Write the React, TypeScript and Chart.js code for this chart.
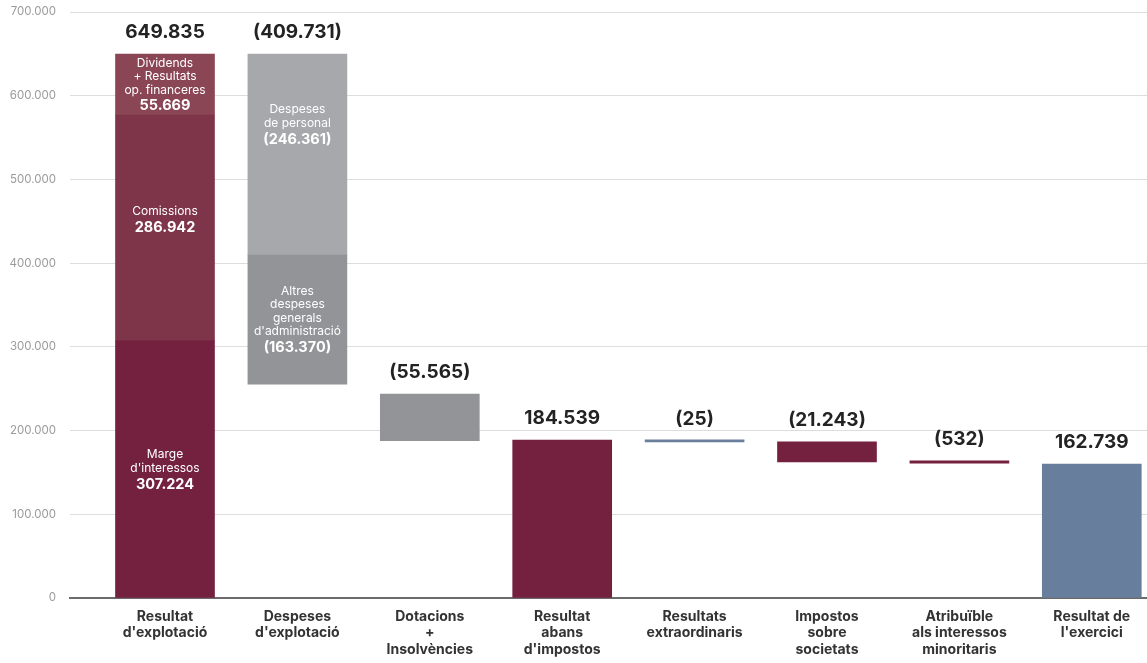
import React, { useEffect, useRef } from "react";
import { Chart, registerables } from "chart.js";

Chart.register(...registerables);

const xLabels: string[][] = [
  ["Resultat", "d'explotació"],
  ["Despeses", "d'explotació"],
  ["Dotacions", "+", "Insolvències"],
  ["Resultat", "abans", "d'impostos"],
  ["Resultats", "extraordinaris"],
  ["Impostos", "sobre", "societats"],
  ["Atribuïble", "als interessos", "minoritaris"],
  ["Resultat de", "l'exercici"],
];

const topLabels = ["649.835", "(409.731)", "(55.565)", "184.539", "(25)", "(21.243)", "(532)", "162.739"];

// floating segment ranges [low, high] per category
const baseRanges: ([number, number] | null)[] = [
  [0, 307224],
  [255500, 409700],
  [188000, 243500],
  [0, 188500],
  [186500, 187300],
  [162500, 186500],
  [161000, 163800],
  [0, 160000],
];
const midRanges: ([number, number] | null)[] = [[307224, 577000], [409700, 649835], null, null, null, null, null, null];
const topRanges: ([number, number] | null)[] = [[577000, 649835], null, null, null, null, null, null, null];

const baseColors = ["#74213f", "#939498", "#939498", "#74213f", "#6a7f9c", "#74213f", "#74213f", "#677e9c"];
const midColors = ["#7e3549", "#a7a8ac", "", "", "", "", "", ""];
const topColors = ["#8b4656", "", "", "", "", "", "", ""];

// texts inside segments
const segmentNotes = [
  { level: 0, cat: 0, lines: ["Marge", "d'interessos"], value: "307.224", dy: 0 },
  { level: 1, cat: 0, lines: ["Comissions"], value: "286.942", dy: -8 },
  { level: 2, cat: 0, lines: ["Dividends", "+ Resultats", "op. financeres"], value: "55.669", dy: 0 },
  { level: 1, cat: 1, lines: ["Despeses", "de personal"], value: "(246.361)", dy: -30 },
  { level: 0, cat: 1, lines: ["Altres", "despeses", "generals", "d'administració"], value: "(163.370)", dy: 0 },
];

const levels = [baseRanges, midRanges, topRanges];

const fmt = (v: number) => String(Math.round(v)).replace(/\B(?=(\d{3})+(?!\d))/g, ".");

const FONT = "Inter";

const toPoints = (ranges: ([number, number] | null)[]) =>
  ranges.map((r, i) => (r ? { x: i, y: r } : null)).filter((p) => p !== null);
const toColors = (ranges: ([number, number] | null)[], colors: string[]) =>
  ranges.map((r, i) => (r ? colors[i] : null)).filter((c) => c !== null);

const labelPlugin = {
  id: "waterfallLabels",
  afterDatasetsDraw(chart: any) {
    const { ctx, scales } = chart;
    const xs = scales.x;
    const ys = scales.y;
    ctx.save();
    ctx.textAlign = "center";
    ctx.textBaseline = "middle";
    segmentNotes.forEach((n) => {
      const r = levels[n.level][n.cat];
      if (!r) return;
      const cx = xs.getPixelForValue(n.cat);
      const cy = (ys.getPixelForValue(r[0]) + ys.getPixelForValue(r[1])) / 2 + n.dy;
      const step = 13.5;
      const gap = 16;
      const h = (n.lines.length - 1) * step + gap;
      const y0 = cy - h / 2;
      ctx.fillStyle = "#ffffff";
      ctx.font = `12px ${FONT}`;
      n.lines.forEach((t, k) => ctx.fillText(t, cx, y0 + k * step));
      ctx.font = `bold 14.5px ${FONT}`;
      ctx.fillText(n.value, cx, y0 + (n.lines.length - 1) * step + gap);
    });
    ctx.fillStyle = "#232323";
    ctx.font = `bold 19px ${FONT}`;
    topLabels.forEach((t, i) => {
      let top = -Infinity;
      levels.forEach((lv) => {
        const r = lv[i];
        if (r) top = Math.max(top, r[1]);
      });
      const cx = xs.getPixelForValue(i);
      const y = ys.getPixelForValue(top) - 22;
      ctx.fillText(t, cx, y);
    });
    ctx.restore();
  },
};

export default function App() {
  const ref = useRef<HTMLCanvasElement | null>(null);
  useEffect(() => {
    if (!ref.current) return;
    const chart = new Chart(ref.current, {
      type: "bar",
      data: {
        datasets: [
          { label: "base", data: toPoints(baseRanges) as any, backgroundColor: toColors(baseRanges, baseColors) as any, barThickness: 99, minBarLength: 2 },
          { label: "mid", data: toPoints(midRanges) as any, backgroundColor: toColors(midRanges, midColors) as any, barThickness: 99 },
          { label: "top", data: toPoints(topRanges) as any, backgroundColor: toColors(topRanges, topColors) as any, barThickness: 99 },
        ],
      },
      options: {
        responsive: false,
        animation: false,
        layout: { padding: { top: 12, left: 0, right: 0, bottom: 0 } },
        plugins: { legend: { display: false }, tooltip: { enabled: false } },
        scales: {
          x: {
            type: "linear",
            min: -0.7175,
            max: 7.417,
            offset: false,
            stacked: true,
            grid: { display: false, drawTicks: false, offset: false },
            border: { display: true, color: "#6b6b6b", width: 2 },
            afterBuildTicks: (s: any) => {
              s.ticks = xLabels.map((_, i) => ({ value: i }));
            },
            afterFit: (s: any) => {
              s.height = 65;
            },
            ticks: {
              autoSkip: false,
              maxRotation: 0,
              minRotation: 0,
              padding: 10,
              color: "#333333",
              font: { family: FONT, size: 14, weight: "bold", lineHeight: 1.2 },
              callback: (v: any) => xLabels[v] ?? "",
            },
          } as any,
          y: {
            min: 0,
            max: 700000,
            stacked: false,
            grid: {
              color: (c: any) => (c.tick && c.tick.value === 0 ? "rgba(0,0,0,0)" : "#dddddd"),
              drawTicks: false,
              lineWidth: 1,
            },
            border: { display: false },
            afterFit: (s: any) => {
              s.width = 70;
              s.paddingTop = 0;
              s.paddingBottom = 0;
            },
            ticks: {
              stepSize: 100000,
              padding: 14,
              color: "#9b9b9b",
              font: { family: FONT, size: 11.5 },
              callback: (v: any) => fmt(Number(v)),
            },
          } as any,
        },
      },
      plugins: [labelPlugin],
    });
    return () => chart.destroy();
  }, []);
  return (
    <div style={{ position: "fixed", left: 0, top: 0, width: 1147, height: 663, background: "#ffffff" }}>
      <canvas ref={ref} width={1147} height={663} style={{ display: "block" }} />
    </div>
  );
}
